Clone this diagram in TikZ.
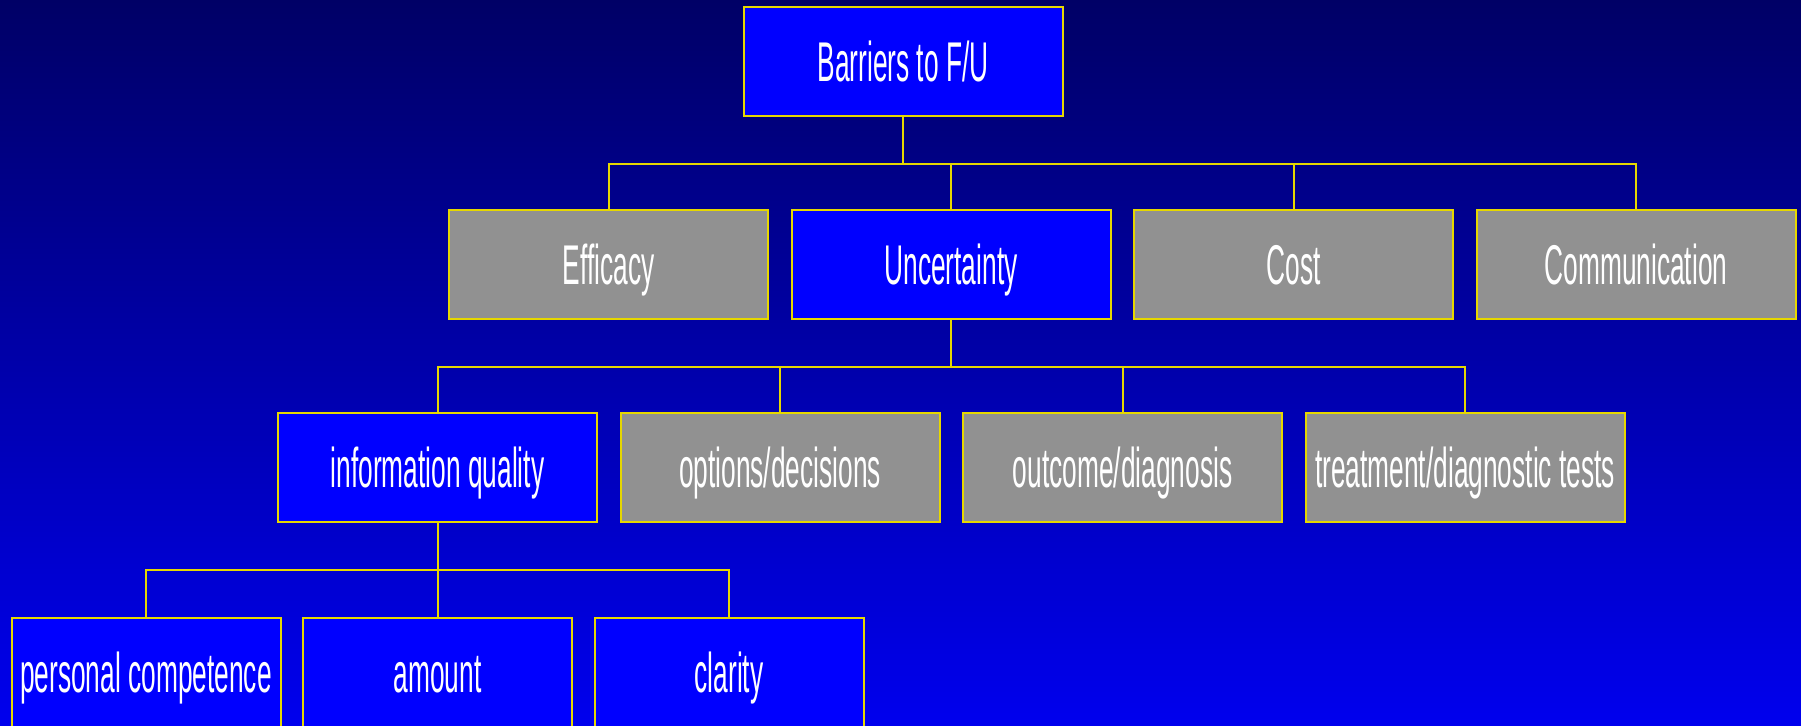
\documentclass[tikz,border=0pt]{standalone}
\usepackage{fontspec}
\newfontfamily\chartfont[FakeStretch=0.47]{Liberation Sans}
\usetikzlibrary{positioning,calc}

\definecolor{bgtop}{RGB}{0,0,102}
\definecolor{bgbot}{RGB}{0,0,238}
\definecolor{boxblue}{RGB}{0,0,255}
\definecolor{boxgrey}{RGB}{145,145,145}
\definecolor{linegold}{RGB}{230,215,0}

\tikzset{
  box/.style={draw=linegold, line width=1pt, text=white, inner sep=0pt,
    minimum width=159.5pt, minimum height=54.5pt,
    text height=20pt, text depth=0pt,
    font=\chartfont\fontsize{28}{30}\selectfont},
  bluebox/.style={box, fill=boxblue},
  greybox/.style={box, fill=boxgrey},
  leafbox/.style={bluebox, minimum width=134.5pt},
  link/.style={draw=linegold, line width=1pt}
}

\begin{document}
\begin{tikzpicture}[x=0.5pt, y=-0.5pt, node distance=171.25pt]
    \shade [top color=bgtop, bottom color=bgbot] (0,0) rectangle (1801,726);
    \useasboundingbox (0,0) rectangle (1801,726);

    \node [bluebox] (root) at (903,61.5) {Barriers to F/U};

    % first level
    \node [greybox] (eff) at (608.5,264.5) {Efficacy};
    \node [bluebox, right of=eff] (unc) {Uncertainty};
    \node [greybox, right of=unc] (cost) {Cost};
    \node [greybox, right of=cost] (comm) {Communication};

    % under uncertainty
    \node [bluebox] (info) at (437.5,468) {information quality};
    \node [greybox, right of=info] (opt) {options/decisions};
    \node [greybox, right of=opt] (outc) {outcome/diagnosis};
    \node [greybox, right of=outc] (tests) {treatment/diagnostic tests};

    % under information quality
    \node [leafbox] (pers) at (146,673) {personal competence};
    \node [leafbox, right of=pers, node distance=145.75pt] (amt) {amount};
    \node [leafbox, right of=amt, node distance=145.75pt] (clar) {clarity};

    \foreach \kid in {eff,unc,cost,comm}
        \draw [link] (root.south) -- ++(0,-23.5pt) -| (\kid.north);
    \foreach \kid in {info,opt,outc,tests}
        \draw [link] (unc.south) -- ++(0,-23.5pt) -| (\kid.north);
    \foreach \kid in {pers,amt,clar}
        \draw [link] (info.south) -- ++(0,-23.5pt) -| (\kid.north);
\end{tikzpicture}
\end{document}
